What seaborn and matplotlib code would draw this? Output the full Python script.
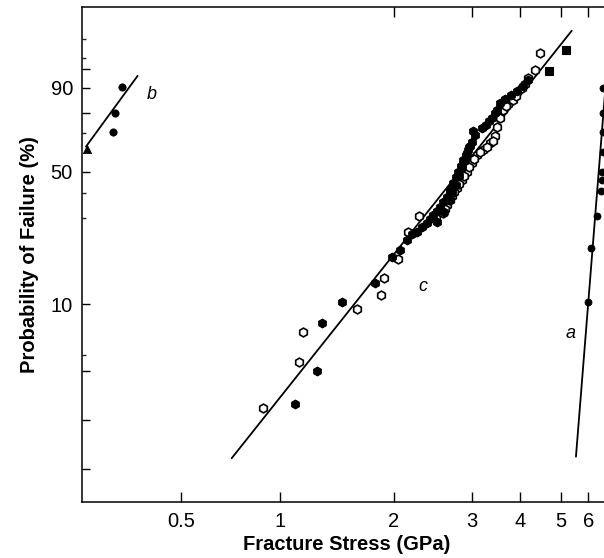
import numpy as np
import matplotlib
matplotlib.use("Agg")
import matplotlib.pyplot as plt
import seaborn as sns
from matplotlib.ticker import FixedLocator, FixedFormatter, NullLocator

# ---------------------------------------------------------------- data ----
# fibre set a: fracture stress (GPa) and cumulative failure probability (%)
a_stress = [6.00, 6.108, 6.342, 6.512, 6.568, 6.581, 6.599, 6.612, 6.612, 6.625]
a_prob = [10.24, 20.8, 30.9, 41.0, 46.0, 50.0, 60.3, 70.4, 80.0, 90.0]
a_fit_stress = [5.53, 7.0]
a_fit_prob = [1.19, 99.9]

# fibre set b
b_stress = [0.311, 0.315, 0.330]
b_prob = [70.7, 79.97, 90.06]
b_first_stress = [0.259]
b_first_prob = [61.7]
b_fit_stress = [0.257, 0.369]
b_fit_prob = [62.9, 93.4]

# fibre set c, two batches (filled / open symbols)
c_filled_stress = [1.095, 1.250, 1.293, 1.455, 1.782, 1.972, 2.063, 2.136, 2.195,
                   2.250, 2.312, 2.369, 2.410, 2.451, 2.495, 2.538, 2.582, 2.627,
                   2.673, 2.719, 2.757, 2.790, 2.830, 2.863, 2.904, 2.939, 2.964,
                   2.991, 3.049, 3.257, 3.376, 3.479, 3.542, 3.649, 3.783, 3.921,
                   4.060, 4.174,
                   2.499, 2.591, 2.659, 2.701, 2.757, 2.800, 2.844, 2.881, 2.919,
                   2.949, 3.013, 3.180, 3.316, 3.437]
c_filled_prob = [2.505, 3.98, 7.69, 10.24, 13.31, 18.68, 20.34, 23.07, 24.85,
                 25.56, 27.07, 28.30, 29.79, 31.24, 32.73, 34.39, 36.40, 38.49,
                 41.42, 44.47, 47.45, 50.04, 52.89, 55.95, 58.53, 61.15, 63.50,
                 65.49, 68.98, 74.07, 77.49, 81.20, 84.22, 85.84, 87.37, 88.82,
                 90.49, 92.29,
                 28.74, 32.35, 37.11, 40.53, 43.68, 47.94, 51.88, 55.43, 59.58,
                 62.72, 71.04, 72.56, 76.04, 79.84]
c_square_stress = [4.695, 5.168]
c_square_prob = [94.63, 98.03]
c_open_stress = [0.890, 1.1245, 1.148, 1.594, 1.848, 1.885, 2.042, 2.154, 2.277,
                 2.486, 2.574, 2.636, 2.697, 2.767, 2.840, 2.914, 2.991, 3.080,
                 3.204, 3.336, 3.437, 3.472, 3.612, 3.715, 3.836, 4.031, 4.181,
                 4.338, 4.460,
                 2.604, 2.666, 2.729, 2.800, 2.874, 2.949, 3.031, 3.142, 3.277,
                 3.396, 3.542, 3.671, 3.898, 4.105]
c_open_prob = [2.357, 4.527, 6.857, 9.31, 11.29, 14.10, 18.07, 25.56, 30.87,
               30.15, 31.87, 35.08, 38.79, 42.17, 46.02, 50.04, 54.26, 58.53,
               61.15, 64.66, 68.47, 73.22, 81.20, 83.80, 85.44, 89.73, 92.76,
               94.79, 97.72,
               33.50, 37.11, 40.53, 44.14, 47.94, 52.38, 56.46, 60.10, 62.72,
               65.85, 77.49, 82.96, 86.99, 91.11]
c_fit_stress = [0.713, 5.377]
c_fit_prob = [1.164, 99.43]

# axis ticks
x_tick_values = [0.5, 1, 2, 3, 4, 5, 6]
x_tick_labels = ["0.5", "1", "2", "3", "4", "5", "6"]
top_tick_values = [2, 3, 4, 5, 6]
y_major_values = [1, 2, 4, 10, 50, 80, 90, 95]
y_major_labels = ["", "", "", "10", "50", "", "90", ""]
y_minor_values = [5, 30, 40, 70, 97, 99]

# ---------------------------------------------------------------- scales --
# The printed stress axis is logarithmic but with uneven tick spacing;
# the knots below give the printed spacing of each tick along the axis.
STRESS_KNOTS = [0.1, 0.25, 0.5, 1, 2, 3, 4, 5, 6, 7, 20]
SPACING_KNOTS = [-130.9, 0, 99, 198, 312, 390.3, 438.3, 478.7, 506.3, 529.6, 688.5]
LOG_KNOTS = np.log(STRESS_KNOTS)


def stress_forward(v):
    v = np.asarray(v, dtype=float)
    with np.errstate(divide="ignore", invalid="ignore"):
        lv = np.log(np.where(v > 0, v, np.nan))
    return np.interp(lv, LOG_KNOTS, SPACING_KNOTS)


def stress_inverse(p):
    p = np.asarray(p, dtype=float)
    return np.exp(np.interp(p, SPACING_KNOTS, LOG_KNOTS))


def weibull_forward(f):
    f = np.asarray(f, dtype=float)
    with np.errstate(divide="ignore", invalid="ignore"):
        q = np.clip(f / 100.0, 1e-12, 1 - 1e-12)
        return np.log(-np.log(1 - q))


def weibull_inverse(w):
    w = np.asarray(w, dtype=float)
    return 100.0 * (1 - np.exp(-np.exp(w)))


# ---------------------------------------------------------------- figure --
sns.set_theme(style="ticks")
plt.rcParams["font.family"] = ["Liberation Sans", "DejaVu Sans"]
plt.rcParams["axes.linewidth"] = 1.1

W, H = 604, 558
fig = plt.figure(figsize=(W / 100, H / 100), dpi=100)
fig.patch.set_facecolor("white")
ax = fig.add_axes([82 / W, 1 - 502 / H, (611.6 - 82) / W, (502 - 7) / H])
ax.set_facecolor("white")
ax.set_xscale("function", functions=(stress_forward, stress_inverse))
ax.set_yscale("function", functions=(weibull_forward, weibull_inverse))
XLIM = (0.25, 7.0)
YLIM = (0.6256, 99.929)
ax.set_xlim(*XLIM)
ax.set_ylim(*YLIM)

line_kw = dict(color="black", linewidth=1.3, estimator=None, sort=False, legend=False)
sns.lineplot(x=c_fit_stress, y=c_fit_prob, ax=ax, **line_kw)
sns.lineplot(x=a_fit_stress, y=a_fit_prob, ax=ax, **line_kw)
sns.lineplot(x=b_fit_stress, y=b_fit_prob, ax=ax, **line_kw)

sns.scatterplot(x=c_open_stress, y=c_open_prob, ax=ax, marker="h", s=40,
                facecolor="white", edgecolor="black", linewidth=1.2, zorder=3)
sns.scatterplot(x=c_filled_stress, y=c_filled_prob, ax=ax, marker="h", s=40,
                color="black", edgecolor="black", linewidth=0.8, zorder=4)
sns.scatterplot(x=c_square_stress, y=c_square_prob, ax=ax, marker="s", s=32,
                color="black", edgecolor="black", linewidth=0.8, zorder=4)
sns.scatterplot(x=a_stress, y=a_prob, ax=ax, marker="o", s=26,
                color="black", edgecolor="black", linewidth=0.5, zorder=4)
sns.scatterplot(x=b_stress, y=b_prob, ax=ax, marker="o", s=28,
                color="black", edgecolor="black", linewidth=0.5, zorder=4)
sns.scatterplot(x=b_first_stress, y=b_first_prob, ax=ax, marker="^", s=36,
                color="black", edgecolor="black", linewidth=0.5, zorder=4)

# curve labels
lab_kw = dict(fontsize=13, fontstyle="italic", ha="center", va="center", color="black")
ax.text(0.407, 87.6, "b", **lab_kw)
ax.text(2.32, 12.6, "c", **lab_kw)
ax.text(5.34, 6.7, "a", **lab_kw)

ax.set_xlim(*XLIM)
ax.set_ylim(*YLIM)

# ticks
ax.xaxis.set_major_locator(FixedLocator(x_tick_values))
ax.xaxis.set_major_formatter(FixedFormatter(x_tick_labels))
ax.xaxis.set_minor_locator(NullLocator())
ax.yaxis.set_major_locator(FixedLocator(y_major_values))
ax.yaxis.set_major_formatter(FixedFormatter(y_major_labels))
ax.yaxis.set_minor_locator(FixedLocator(y_minor_values))
ax.tick_params(axis="x", which="major", direction="in", length=7, width=1.0,
               pad=7, labelsize=14.5, colors="black", top=False)
ax.tick_params(axis="y", which="major", direction="in", length=6, width=1.0,
               pad=6.5, labelsize=14.5, colors="black", right=False)
ax.tick_params(axis="y", which="minor", direction="in", length=3, width=1.0,
               right=False)

for side in ("left", "bottom", "top"):
    ax.spines[side].set_visible(True)
    ax.spines[side].set_color("black")
ax.spines["right"].set_visible(False)

# short ticks along the top edge
ax_top = ax.twiny()
ax_top.set_xscale("function", functions=(stress_forward, stress_inverse))
ax_top.set_xlim(*XLIM)
ax_top.xaxis.set_major_locator(FixedLocator(top_tick_values))
ax_top.xaxis.set_minor_locator(NullLocator())
ax_top.tick_params(axis="x", which="major", direction="in", length=7, width=1.0,
                   labeltop=False, top=True, bottom=False, colors="black")
for s in ax_top.spines.values():
    s.set_visible(False)

ax.set_xlabel("Fracture Stress (GPa)", fontsize=14.5, fontweight="bold",
              labelpad=3, color="black")
ax.set_ylabel("Probability of Failure (%)", fontsize=14.5, fontweight="bold",
              labelpad=8, color="black")

fig.savefig("out.png", dpi=100, facecolor="white")
